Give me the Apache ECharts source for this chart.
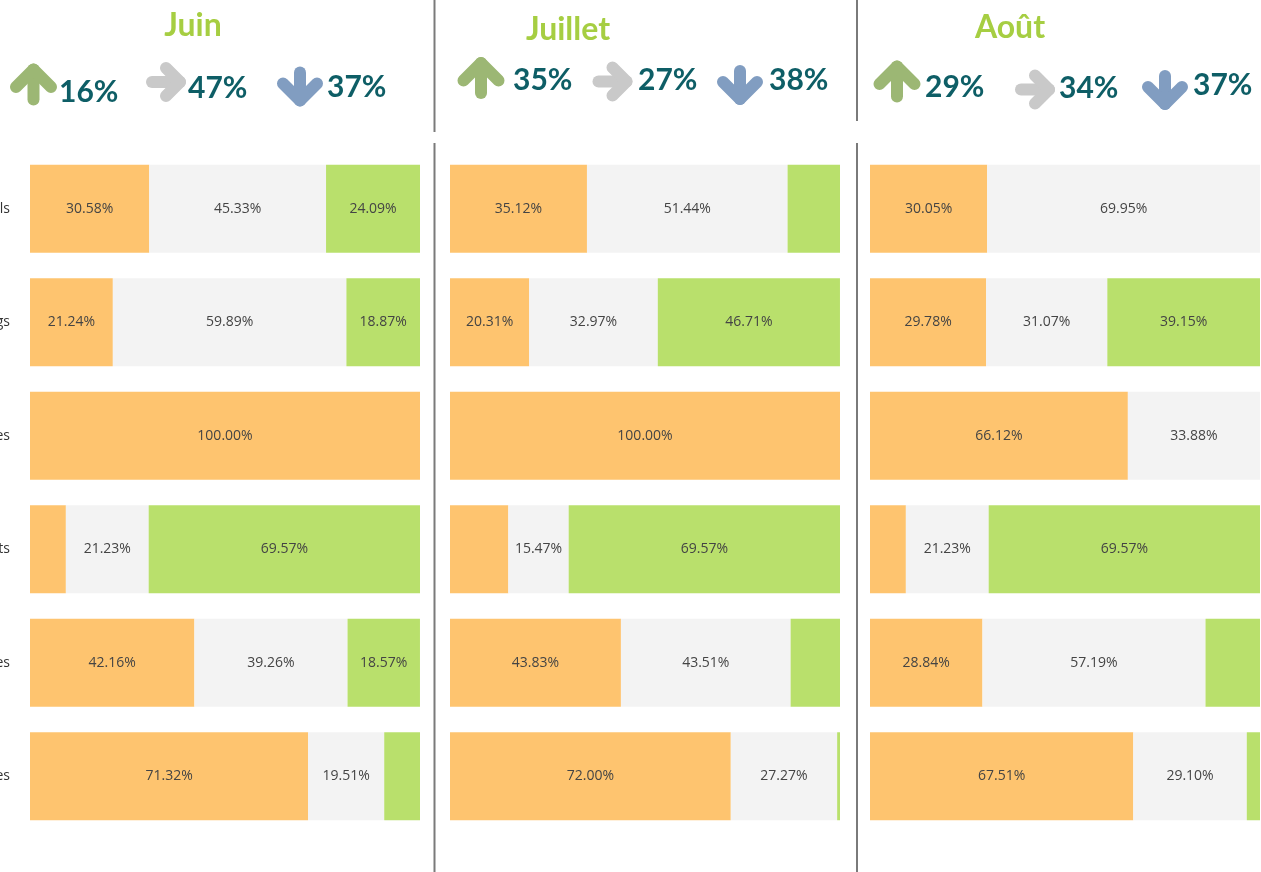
<!DOCTYPE html>
<html>
<head>
<meta charset="utf-8">
<script src="https://cdn.jsdelivr.net/npm/echarts@6/dist/echarts.min.js"></script>
<style>
  html, body { margin: 0; padding: 0; background: #fff; }
  #chart { width: 1261px; height: 872px; }
</style>
</head>
<body>
<div id="chart"></div>
<script>
// rows (only the ends of these names are visible, the chart is cropped on the left)
const categories = ['Appels', 'Meetings', 'Ventes', 'Contrats', 'Relances', 'Demandes'];
const months = ['Juin', 'Juillet', 'Août'];

// header percentages per month
const upPct = [16, 35, 29];
const flatPct = [47, 27, 34];
const downPct = [37, 38, 37];

// stacked shares (orange / grey / green) per month
const juinOrange = [30.58, 21.24, 100, 9.20, 42.16, 71.32];
const juinGrey = [45.33, 59.89, 0, 21.23, 39.26, 19.51];
const juinGreen = [24.09, 18.87, 0, 69.57, 18.57, 9.17];

const juilletOrange = [35.12, 20.31, 100, 14.96, 43.83, 72.00];
const juilletGrey = [51.44, 32.97, 0, 15.47, 43.51, 27.27];
const juilletGreen = [13.44, 46.71, 0, 69.57, 12.66, 0.73];

const aoutOrange = [30.05, 29.78, 66.12, 9.20, 28.84, 67.51];
const aoutGrey = [69.95, 31.07, 33.88, 21.23, 57.19, 29.10];
const aoutGreen = [0, 39.15, 0, 69.57, 13.97, 3.39];

const monthData = [
  [juinOrange, juinGrey, juinGreen],
  [juilletOrange, juilletGrey, juilletGreen],
  [aoutOrange, aoutGrey, aoutGreen]
];

const segColors = ['#FEC46F', '#F3F3F3', '#B9E06C'];
const gridLefts = [30, 450, 870];

// header layout (arrow centers, text anchors)
const header = [
  { title: [193, 26], up: [33.5, 84.5], upT: [59, 92], flat: [166, 82], flatT: [188, 88], down: [300, 86.5], downT: [327, 87] },
  { title: [568, 30], up: [481, 78], upT: [513, 80], flat: [612.5, 81.5], flatT: [638, 80], down: [740, 85], downT: [769, 80] },
  { title: [1010, 28], up: [897, 81.5], upT: [925, 87], flat: [1035, 89.5], flatT: [1059, 88], down: [1165, 90], downT: [1193, 85] }
];

// thick stroked arrow: shaft + chevron, drawn pointing up then turned
function arrow(dir, c, w, h, color) {
  const lw = 12, ax = w / 2 - lw / 2, ay = h / 2 - lw / 2;
  const turn = ([x, y]) => {
    if (dir === 'right') return [c[0] - y, c[1] + x];
    if (dir === 'down') return [c[0] - x, c[1] - y];
    return [c[0] + x, c[1] + y];
  };
  const chevron = [[-ax, -ay + ax], [0, -ay], [ax, -ay + ax]].map(turn);
  const shaft = [[0, -ay], [0, ay]].map(turn);
  const st = { stroke: color, lineWidth: lw, lineCap: 'round', lineJoin: 'round', fill: null };
  return [
    { type: 'polyline', shape: { points: shaft }, style: st, silent: true },
    { type: 'polyline', shape: { points: chevron }, style: st, silent: true }
  ];
}

function txt(pos, text, opts) {
  return {
    type: 'text', x: pos[0], y: pos[1], silent: true,
    style: Object.assign({ text: text, verticalAlign: 'middle' }, opts)
  };
}

const graphics = [];
header.forEach((h, i) => {
  graphics.push(txt(h.title, months[i], { fill: '#A6CE42', font: 'bold 32px Lato', align: 'center' }));
  graphics.push(...arrow('up', h.up, 47, 42, '#9CB774'));
  graphics.push(...arrow('right', h.flat, 40, 40, '#C9C9C9'));
  graphics.push(...arrow('down', h.down, 46, 40, '#819DC1'));
  const numStyle = { fill: '#0E5E66', font: 'bold 30px Lato', align: 'left' };
  graphics.push(txt(h.upT, upPct[i] + '%', numStyle));
  graphics.push(txt(h.flatT, flatPct[i] + '%', numStyle));
  graphics.push(txt(h.downT, downPct[i] + '%', numStyle));
});

// divider lines
[[434.5, 132], [857, 121]].forEach(([x, topEnd]) => {
  const ls = { stroke: '#7A7A7A', lineWidth: 2 };
  graphics.push({ type: 'line', shape: { x1: x, y1: 0, x2: x, y2: topEnd }, style: ls, silent: true });
  graphics.push({ type: 'line', shape: { x1: x, y1: 143, x2: x, y2: 872 }, style: ls, silent: true });
});

const grids = [], xAxes = [], yAxes = [], series = [];
monthData.forEach((segs, i) => {
  grids.push({ left: gridLefts[i], width: 390, top: 152, height: 681, containLabel: false, outerBoundsMode: 'none' });
  xAxes.push({ type: 'value', gridIndex: i, min: 0, max: 100, show: false });
  yAxes.push({
    type: 'category', gridIndex: i, data: categories, inverse: true,
    axisLine: { show: false }, axisTick: { show: false }, splitLine: { show: false },
    axisLabel: { show: i === 0, margin: 20, color: '#333', fontSize: 14, fontFamily: 'Open Sans' }
  });
  segs.forEach((vals, k) => {
    series.push({
      type: 'bar', xAxisIndex: i, yAxisIndex: i, stack: 'm' + i,
      data: vals, barWidth: 88,
      itemStyle: { color: segColors[k] },
      label: {
        show: true, position: 'inside', color: '#444', fontSize: 14, fontFamily: 'Open Sans',
        formatter: p => p.value >= 15 ? p.value.toFixed(2) + '%' : ''
      },
      emphasis: { disabled: true },
      animation: false
    });
  });
});

const chart = echarts.init(document.getElementById('chart'));
chart.setOption({
  animation: false,
  grid: grids,
  xAxis: xAxes,
  yAxis: yAxes,
  series: series,
  graphic: graphics
});
</script>
</body>
</html>
